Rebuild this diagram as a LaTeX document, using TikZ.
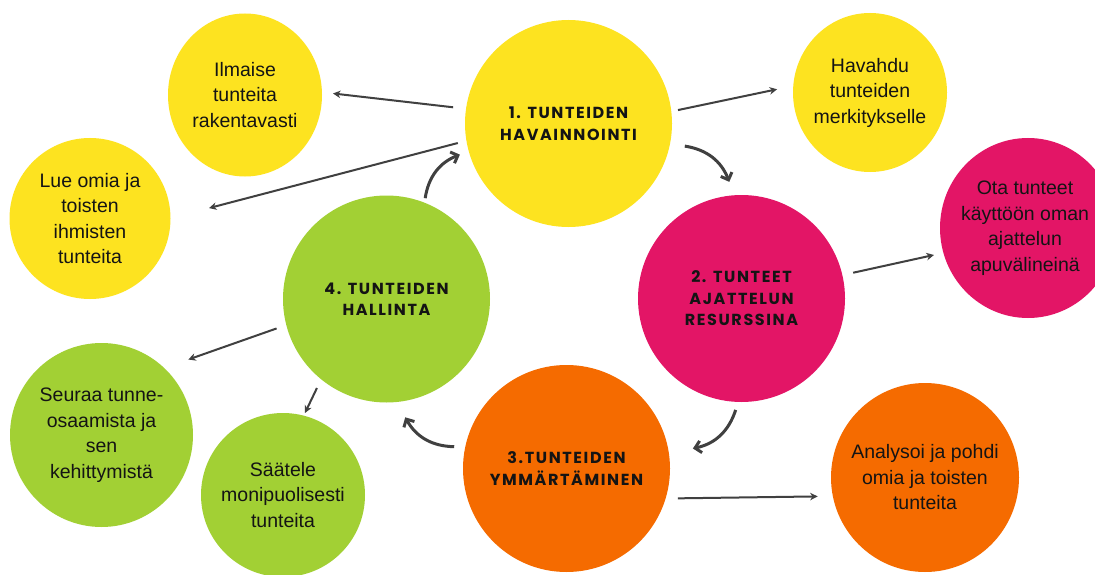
\documentclass[tikz,border=0pt]{standalone}
\usepackage{fontspec}
\setmainfont{Liberation Sans}
\newfontfamily\headfont{Poppins}[LetterSpace=10]
\usetikzlibrary{shapes.geometric,arrows.meta,calc}
\definecolor{cyel}{HTML}{FDE320}
\definecolor{cmag}{HTML}{E31566}
\definecolor{cgrn}{HTML}{A2D034}
\definecolor{corg}{HTML}{F56B00}
\definecolor{arrc}{HTML}{404040}
\definecolor{txt}{HTML}{141414}
\tikzset{
  disc/.style={ellipse, inner sep=0pt, draw=none},
  bigdisc/.style={disc, minimum width=207pt, minimum height=207pt},
  smalltext/.style={inner sep=0pt, align=center, text=txt, font=\fontsize{19.5}{25.5}\selectfont},
  headtext/.style={inner sep=0pt, align=center, text=txt, font=\headfont\bfseries\fontsize{16}{21.5}\selectfont},
  arr/.style={draw=arrc, line width=2pt, -{Stealth[length=7.5pt,width=7.5pt]}},
  carr/.style={draw=arrc, line width=3pt, -{Straight Barb[length=6pt,width=12pt]}},
}
\begin{document}
\begin{tikzpicture}[x=1pt,y=-1pt]
\clip (0,0) rectangle (1095,575);
\fill[white] (0,0) rectangle (1095,575);
% main discs
\node[bigdisc, fill=cyel] (h1) at (568.5,123.5) {};
\node[bigdisc, fill=cmag] (h2) at (741.5,298.5) {};
\node[bigdisc, fill=corg] (h3) at (566.5,468.5) {};
\node[bigdisc, fill=cgrn] (h4) at (386.5,299) {};
\node[headtext] (h1t) at (h1) {1. TUNTEIDEN\\HAVAINNOINTI};
\node[headtext] (h2t) at (h2) {2. TUNTEET\\AJATTELUN\\RESURSSINA};
\node[headtext] (h3t) at (h3) {3.TUNTEIDEN\\YMMÄRTÄMINEN};
\node[headtext] (h4t) at (h4) {4. TUNTEIDEN\\HALLINTA};
% satellite discs
\node[disc, fill=cyel, minimum width=154pt, minimum height=163pt] (s1) at (245,95) {};
\node[disc, fill=cyel, minimum width=161pt, minimum height=161pt] (s2) at (90,218.5) {};
\node[disc, fill=cyel, minimum width=154pt, minimum height=159pt] (s3) at (870,92.5) {};
\node[disc, fill=cmag, minimum width=176pt, minimum height=180pt] (s4) at (1028,228) {};
\node[disc, fill=cgrn, minimum width=183pt, minimum height=184pt] (s5) at (101.5,435) {};
\node[disc, fill=cgrn, minimum width=164pt, minimum height=164pt] (s6) at (283,495) {};
\node[disc, fill=corg, minimum width=188pt, minimum height=189pt] (s7) at (925,477.5) {};
\node[smalltext] (s1t) at (s1) {Ilmaise\\tunteita\\rakentavasti};
\node[smalltext] (s2t) at (s2) {Lue omia ja\\toisten\\ihmisten\\tunteita};
\node[smalltext] (s3t) at (s3) {Havahdu\\tunteiden\\merkitykselle};
\node[smalltext] (s4t) at ([xshift=-3pt]s4.center) {Ota tunteet\\käyttöön oman\\ajattelun\\apuvälineinä};
\node[smalltext] (s5t) at (s5) {Seuraa tunne-\\osaamista ja\\sen\\kehittymistä};
\node[smalltext] (s6t) at (s6) {Säätele\\monipuolisesti\\tunteita};
\node[smalltext] (s7t) at (s7) {Analysoi ja pohdi\\omia ja toisten\\tunteita};
% straight arrows
\draw[arr] ($(h1)!116.5pt!(h1.172.4)$) -- ($(s1)!88pt!(s1.1.3)$);
\draw[arr] ($(h1)!112.4pt!(h1.190.5)$) -- ($(s2)!119.5pt!(s2.5)$);
\draw[arr] ($(h1)!110.3pt!(h1.7)$) -- ($(s3)!93pt!(s3.178.5)$);
\draw[arr] ($(h2)!114.6pt!(h2.13.4)$) -- ($(s4)!97.8pt!(s4.196)$);
\draw[arr] ($(h4)!113.8pt!(h4.195.8)$) -- ($(s5)!115pt!(s5.41.3)$);
\draw[arr] ($(h4)!113pt!(h4.232.7)$) -- ($(s6)!84.9pt!(s6.75)$);
\draw[arr] ($(h3)!115.3pt!(h3.345.2)$) -- ($(s7)!109pt!(s7.190.8)$);
% cycle arrows
\draw[carr] ($(h1)!118.5pt!(h1.349.5)$) to[bend left=30] ($(h2)!117.3pt!(h2.96.6)$);
\draw[carr] ($(h2)!111.6pt!(h2.267.2)$) to[bend left=30] ($(h3)!128pt!(h3.9.2)$);
\draw[carr] ($(h3)!114.4pt!(h3.169.7)$) to[bend left=30] ($(h4)!119.8pt!(h4.279.9)$);
\draw[carr] ($(h4)!108pt!(h4.69.1)$) to[bend left=30] ($(h1)!113pt!(h1.196.2)$);
\end{tikzpicture}
\end{document}
